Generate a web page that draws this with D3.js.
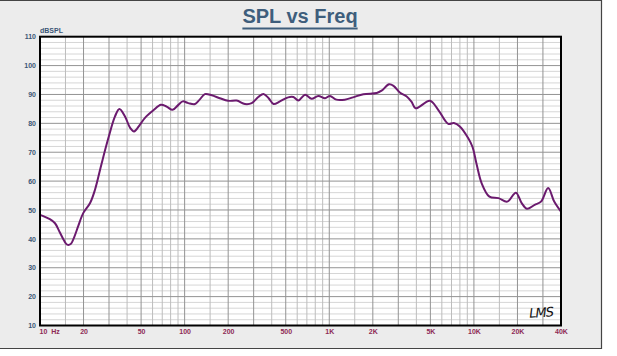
<!DOCTYPE html>
<html><head><meta charset="utf-8">
<script src="https://cdn.jsdelivr.net/npm/d3@7"></script>
<style>
html,body{margin:0;padding:0;background:#fff;}
svg{display:block;}
</style></head>
<body>
<script>
const title = "SPL vs Freq";
const yUnit = "dBSPL";
const freqs = [10, 11.7, 12.7, 13.7, 14.6, 15.4, 16.3, 17.3, 18.4, 19.9, 22.2, 24, 26.7, 29.7, 33, 35.4, 38.7, 42, 44.7, 49, 53, 60.8, 68.6, 75, 82.6, 90.5, 97, 106, 118, 127, 138, 154, 175, 200, 229, 261, 291, 323, 351, 381, 412, 456, 520, 565, 612, 680, 755, 840, 935, 1010, 1120, 1280, 1460, 1720, 2130, 2300, 2590, 2780, 3090, 3430, 3710, 3950, 4960, 5660, 6650, 7270, 7990, 9120, 9780, 10400, 11300, 12800, 14800, 17000, 19500, 21400, 23300, 26300, 29100, 32600, 35900, 40000];
const spl = [48.3, 46.8, 45.4, 42.3, 39.6, 38, 38.2, 40.8, 44.5, 48.9, 52.4, 57, 66.2, 74.9, 82.4, 85, 82.4, 78.4, 77.2, 79.5, 81.8, 84.5, 86.4, 85.8, 84.7, 86.4, 87.6, 87, 86.7, 88.2, 90.1, 89.7, 88.7, 87.8, 87.9, 86.7, 87, 89.1, 90.2, 88.7, 86.7, 87.6, 89, 89.1, 87.9, 89.9, 88.5, 89.5, 88.7, 89.5, 88.2, 88.2, 89, 90.1, 90.5, 91.3, 93.5, 93, 90.6, 89.3, 87.4, 85.2, 87.8, 84.7, 79.8, 80.1, 78.9, 74.9, 71.8, 66.2, 59.3, 54.6, 54.1, 52.9, 56, 52.4, 50.4, 51.8, 52.9, 57.6, 52.9, 49.4];
const yTicks = [10, 20, 30, 40, 50, 60, 70, 80, 90, 100, 110];
const xTickValues = [10, 20, 50, 100, 200, 500, 1000, 2000, 5000, 10000, 20000, 40000];
const xTickLabels = ["10  Hz", "20", "50", "100", "200", "500", "1K", "2K", "5K", "10K", "20K", "40K"];
const gridMult = [1, 1.5, 2, 3, 4, 5, 6, 7, 8, 9];
const darkMult = [1, 2, 3, 5];

const W = 617, H = 356;
const svg = d3.select("body").append("svg").attr("width", W).attr("height", H);

svg.append("rect").attr("x", 0).attr("y", 0).attr("width", 601).attr("height", 348).attr("fill", "#ececec");
svg.append("path").attr("d", "M0,0.5 H601.5 V348.5 H0").attr("fill", "none").attr("stroke", "#444").attr("stroke-width", 1.2);

const L = 40, R = 561, T = 36.7, B = 325.5;
const x = d3.scaleLog().domain([10, 40000]).range([L, R]);
const y = d3.scaleLinear().domain([10, 110]).range([B, T]);

svg.append("rect").attr("x", L).attr("y", T).attr("width", R - L).attr("height", B - T).attr("fill", "#fff");

const g = svg.append("g");
for (let v = 12; v < 110; v += 2) {
  if (v % 10 === 0) continue;
  g.append("line").attr("x1", L).attr("x2", R).attr("y1", y(v)).attr("y2", y(v)).attr("stroke", "#d6d6d6").attr("stroke-width", 1);
}
const vlines = [];
[10, 100, 1000, 10000].forEach(d => gridMult.forEach(m => { const f = d * m; if (f > 10 && f < 40000) vlines.push({f, dark: darkMult.includes(m)}); }));
vlines.filter(v => !v.dark).forEach(v => g.append("line").attr("x1", x(v.f)).attr("x2", x(v.f)).attr("y1", T).attr("y2", B).attr("stroke", "#bdbdbd").attr("stroke-width", 1));
vlines.filter(v => v.dark).forEach(v => g.append("line").attr("x1", x(v.f)).attr("x2", x(v.f)).attr("y1", T).attr("y2", B).attr("stroke", "#939393").attr("stroke-width", 1));
yTicks.forEach(v => { if (v > 10 && v < 110) g.append("line").attr("x1", L).attr("x2", R).attr("y1", y(v)).attr("y2", y(v)).attr("stroke", "#939393").attr("stroke-width", 1); });

const pts = freqs.map((f, i) => [f, spl[i]]);
svg.append("path").datum(pts)
  .attr("d", d3.line().x(d => x(d[0])).y(d => y(d[1])).curve(d3.curveCatmullRom.alpha(0.5)))
  .attr("fill", "none").attr("stroke", "#6b1a6e").attr("stroke-width", 2);

svg.append("rect").attr("x", L).attr("y", T).attr("width", R - L).attr("height", B - T).attr("fill", "none").attr("stroke", "#000").attr("stroke-width", 2);

const yAxis = d3.axisLeft(y).tickValues(yTicks).tickSize(0).tickPadding(3);
const ya = svg.append("g").attr("transform", `translate(${L - 1},0)`).call(yAxis);
ya.select(".domain").remove();
ya.selectAll("text").attr("font-family", "Liberation Sans, Arial, sans-serif").attr("font-size", 7).attr("font-weight", "bold").attr("fill", "#3b5676");

svg.append("text").attr("x", L).attr("y", 33).text(yUnit).attr("font-family", "Liberation Sans, Arial, sans-serif").attr("font-size", 7).attr("font-weight", "bold").attr("fill", "#3b5676");

const xAxis = d3.axisBottom(x).tickValues(xTickValues).tickFormat((d, i) => xTickLabels[i]).tickSize(0).tickPadding(4);
const xa = svg.append("g").attr("transform", `translate(0,${B})`).call(xAxis);
xa.select(".domain").remove();
xa.selectAll("text").attr("font-family", "Liberation Sans, Arial, sans-serif").attr("font-size", 7).attr("font-weight", "bold").attr("fill", "#8e2a55").style("white-space", "pre");
xa.selectAll("text").filter((d, i) => i === 0).attr("text-anchor", "start").attr("x", -1);

const tt = svg.append("text").attr("x", 300).attr("y", 23).attr("text-anchor", "middle").text(title)
  .attr("font-family", "Liberation Sans, Arial, sans-serif").attr("font-size", 20).attr("font-weight", "bold").attr("fill", "#3e5e7c");
const bb = tt.node().getBBox();
svg.append("line").attr("x1", bb.x).attr("x2", bb.x + bb.width).attr("y1", 28.5).attr("y2", 28.5).attr("stroke", "#3e5e7c").attr("stroke-width", 2);

svg.append("text").attr("x", 529).attr("y", 317).text("LMS").attr("font-family", "DejaVu Sans, sans-serif").attr("font-style", "italic").attr("font-size", 13).attr("textLength", 25).attr("fill", "#111").attr("transform", "rotate(-4 541 312)");
</script>
</body></html>
